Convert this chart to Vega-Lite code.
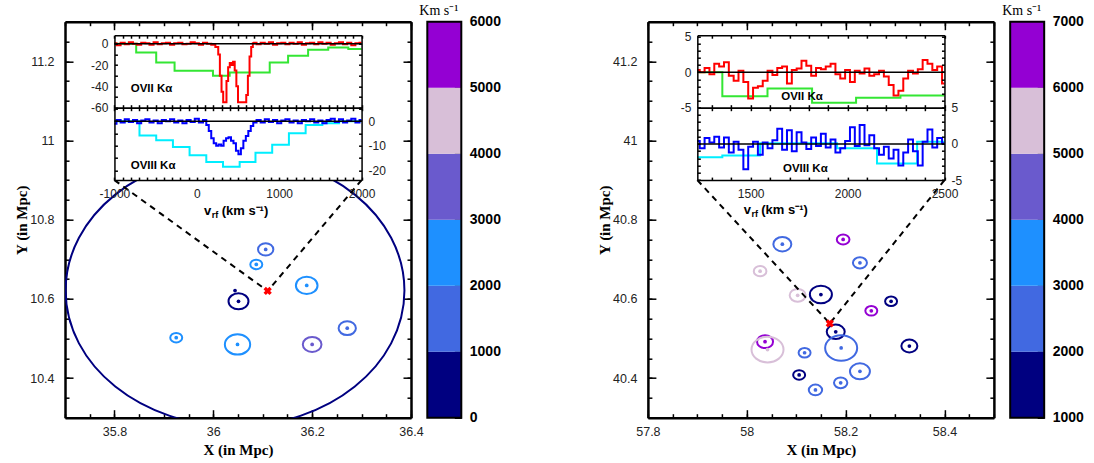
{
"$schema": "https://vega.github.io/schema/vega-lite/v6.json",
"background": "white",
"padding": {"left": 14, "top": 3.7, "right": 5, "bottom": 2},
"spacing": 16.3,
"bounds": "flush",
"resolve": {"scale": {"color": "independent", "size": "independent"}},
"config": {
  "view": {"stroke": null},
  "font": "Liberation Sans",
  "axis": {"grid": false, "tickColor": "black", "tickWidth": 1.5, "domainColor": "black", "labelFont": "Liberation Sans", "labelColor": "#222", "labelFlush": false, "labelOverlap": false, "labelBound": false, "titleFont": "Liberation Serif", "titleFontWeight": "bold", "titleColor": "black", "titleFontSize": 15}
},
"datasets": {
  "galL": [
    {"x": 36.106, "y": 10.725, "r": 0.0155, "v": 1500},
    {"x": 36.087, "y": 10.687, "r": 0.0121, "v": 2500},
    {"x": 36.189, "y": 10.634, "r": 0.0219, "v": 2400},
    {"x": 36.051, "y": 10.594, "r": 0.0202, "v": 600},
    {"x": 36.271, "y": 10.526, "r": 0.0175, "v": 1400},
    {"x": 35.925, "y": 10.502, "r": 0.0121, "v": 2600},
    {"x": 36.049, "y": 10.485, "r": 0.0256, "v": 2300},
    {"x": 36.200, "y": 10.485, "r": 0.0189, "v": 3500}
  ],
  "grpL": [{"x": 36.044, "y": 10.621}],
  "lnL": [{"x": 35.8, "y": 10.9, "x2": 36.11, "y2": 10.62}, {"x": 36.3, "y": 10.9, "x2": 36.11, "y2": 10.62}],
  "xL": [{"x": 36.11, "y": 10.62}],
  "o7L": [
    {"v":-1000,"f":0.5},{"v":-950,"f":-1.5},{"v":-900,"f":1},{"v":-850,"f":-0.5},{"v":-800,"f":1.5},{"v":-750,"f":0},{"v":-700,"f":-1},{"v":-650,"f":1},{"v":-600,"f":0.5},{"v":-550,"f":-1},{"v":-500,"f":1.5},{"v":-450,"f":-0.5},{"v":-400,"f":0.5},{"v":-350,"f":1},{"v":-300,"f":-1},{"v":-250,"f":0.5},{"v":-200,"f":1},{"v":-150,"f":-0.5},{"v":-100,"f":0},{"v":-50,"f":1.5},{"v":0,"f":0.5},{"v":50,"f":-1},{"v":100,"f":1},{"v":150,"f":0},{"v":200,"f":-1},{"v":250,"f":-3},{"v":270,"f":-10},{"v":290,"f":-30},{"v":310,"f":-45},{"v":330,"f":-55},{"v":350,"f":-55},{"v":370,"f":-35},{"v":390,"f":-22},{"v":410,"f":-18},{"v":430,"f":-20},{"v":450,"f":-17},{"v":470,"f":-25},{"v":490,"f":-40},{"v":510,"f":-55},{"v":530,"f":-55},{"v":550,"f":-55},{"v":570,"f":-55},{"v":590,"f":-55},{"v":610,"f":-48},{"v":630,"f":-30},{"v":650,"f":-12},{"v":670,"f":-3},{"v":690,"f":0.5},{"v":700,"f":1},{"v":750,"f":-0.5},{"v":800,"f":1},{"v":850,"f":0},{"v":900,"f":1.5},{"v":950,"f":-1},{"v":1000,"f":0.5},{"v":1050,"f":1},{"v":1100,"f":-0.5},{"v":1150,"f":1},{"v":1200,"f":0},{"v":1250,"f":1.5},{"v":1300,"f":-1},{"v":1350,"f":0.5},{"v":1400,"f":1},{"v":1450,"f":-0.5},{"v":1500,"f":1.5},{"v":1550,"f":0},{"v":1600,"f":1},{"v":1650,"f":-1},{"v":1700,"f":0.5},{"v":1750,"f":1.5},{"v":1800,"f":-0.5},{"v":1850,"f":1},{"v":1900,"f":-1.5},{"v":1950,"f":0.5},{"v":2000,"f":1}
  ],
  "o7mL": [
    {"v":-1000,"f":0},{"v":-736,"f":-8.2},{"v":-493,"f":-17.5},{"v":-270,"f":-25.3},{"v":196,"f":-30},{"v":399,"f":-27},{"v":885,"f":-17.5},{"v":1108,"f":-11.3},{"v":1351,"f":-5.7},{"v":1595,"f":-3.5},{"v":1839,"f":-5},{"v":2000,"f":-5}
  ],
  "o8L": [
    {"v":-1000,"f":-1},{"v":-950,"f":0.5},{"v":-900,"f":-0.5},{"v":-850,"f":0.8},{"v":-800,"f":-0.3},{"v":-750,"f":0.5},{"v":-700,"f":-0.8},{"v":-650,"f":0.3},{"v":-600,"f":0.8},{"v":-550,"f":-0.5},{"v":-500,"f":0.3},{"v":-450,"f":-0.8},{"v":-400,"f":0.5},{"v":-350,"f":0},{"v":-300,"f":0.8},{"v":-250,"f":-0.5},{"v":-200,"f":0.3},{"v":-150,"f":-0.8},{"v":-100,"f":0.5},{"v":-50,"f":-0.3},{"v":0,"f":1},{"v":50,"f":-0.5},{"v":100,"f":0.5},{"v":130,"f":-1.5},{"v":160,"f":-4},{"v":190,"f":-7},{"v":220,"f":-9},{"v":250,"f":-10},{"v":280,"f":-9.5},{"v":310,"f":-10},{"v":340,"f":-8},{"v":370,"f":-7},{"v":400,"f":-6.5},{"v":430,"f":-8},{"v":460,"f":-9},{"v":490,"f":-12},{"v":520,"f":-13.5},{"v":550,"f":-11},{"v":580,"f":-8},{"v":610,"f":-6},{"v":640,"f":-4},{"v":670,"f":-2},{"v":700,"f":-0.5},{"v":750,"f":0.5},{"v":800,"f":-0.5},{"v":850,"f":0.8},{"v":900,"f":-0.3},{"v":950,"f":0.5},{"v":1000,"f":-0.8},{"v":1050,"f":0.3},{"v":1100,"f":0.8},{"v":1150,"f":-0.5},{"v":1200,"f":0.3},{"v":1250,"f":-0.8},{"v":1300,"f":0.5},{"v":1350,"f":0},{"v":1400,"f":0.8},{"v":1450,"f":-0.5},{"v":1500,"f":0.3},{"v":1550,"f":-0.8},{"v":1600,"f":0.5},{"v":1650,"f":1},{"v":1700,"f":-0.3},{"v":1750,"f":0.8},{"v":1800,"f":-0.5},{"v":1850,"f":0.3},{"v":1900,"f":1},{"v":1950,"f":-0.5},{"v":2000,"f":0.5}
  ],
  "o8mL": [
    {"v":-1000,"f":0},{"v":-696,"f":-5.8},{"v":-493,"f":-7.8},{"v":-290,"f":-10.5},{"v":-88,"f":-13.9},{"v":115,"f":-16.6},{"v":318,"f":-18.6},{"v":520,"f":-16.6},{"v":712,"f":-12.9},{"v":915,"f":-9.6},{"v":1118,"f":-4.9},{"v":1321,"f":-1.5},{"v":1524,"f":-0.8},{"v":1727,"f":0},{"v":2000,"f":0}
  ],
  "galR": [
    {"x": 58.072, "y": 40.738, "r": 0.0182, "v": 2500},
    {"x": 58.195, "y": 40.750, "r": 0.0128, "v": 6500},
    {"x": 58.229, "y": 40.691, "r": 0.0142, "v": 2400},
    {"x": 58.027, "y": 40.670, "r": 0.0128, "v": 5500},
    {"x": 58.150, "y": 40.611, "r": 0.0223, "v": 1500},
    {"x": 58.103, "y": 40.609, "r": 0.0162, "v": 5400},
    {"x": 58.292, "y": 40.594, "r": 0.0121, "v": 1600},
    {"x": 58.252, "y": 40.570, "r": 0.0121, "v": 6400},
    {"x": 58.180, "y": 40.517, "r": 0.0182, "v": 1400},
    {"x": 58.329, "y": 40.481, "r": 0.0162, "v": 1700},
    {"x": 58.037, "y": 40.492, "r": 0.0162, "v": 6600},
    {"x": 58.042, "y": 40.472, "r": 0.0324, "v": 5600},
    {"x": 58.191, "y": 40.476, "r": 0.0324, "v": 2600},
    {"x": 58.117, "y": 40.464, "r": 0.0121, "v": 2300},
    {"x": 58.229, "y": 40.417, "r": 0.0202, "v": 2700},
    {"x": 58.106, "y": 40.408, "r": 0.0121, "v": 1300},
    {"x": 58.190, "y": 40.388, "r": 0.0135, "v": 2200},
    {"x": 58.139, "y": 40.370, "r": 0.0135, "v": 2500}
  ],
  "lnR": [{"x": 57.9, "y": 40.9, "x2": 58.168, "y2": 40.538}, {"x": 58.4, "y": 40.9, "x2": 58.168, "y2": 40.538}],
  "xR": [{"x": 58.168, "y": 40.538}],
  "o7R": [
    {"v":1225,"f":0.3},{"v":1250,"f":0},{"v":1275,"f":0.6},{"v":1300,"f":-0.3},{"v":1325,"f":1.2},{"v":1350,"f":0.8},{"v":1375,"f":1.4},{"v":1400,"f":-0.5},{"v":1425,"f":-1.2},{"v":1450,"f":0.2},{"v":1475,"f":-1.4},{"v":1500,"f":-3.7},{"v":1525,"f":-2.2},{"v":1550,"f":-2.0},{"v":1575,"f":-1.2},{"v":1600,"f":0.2},{"v":1625,"f":-0.4},{"v":1650,"f":0.6},{"v":1675,"f":0.8},{"v":1700,"f":-1.6},{"v":1725,"f":0.3},{"v":1750,"f":0.5},{"v":1775,"f":1.6},{"v":1800,"f":0.9},{"v":1825,"f":-0.5},{"v":1850,"f":0.6},{"v":1875,"f":0.4},{"v":1900,"f":0.8},{"v":1925,"f":1.2},{"v":1950,"f":-0.3},{"v":1975,"f":-0.9},{"v":2000,"f":0.3},{"v":2025,"f":-1.4},{"v":2050,"f":0.2},{"v":2075,"f":-0.2},{"v":2100,"f":0.5},{"v":2125,"f":-0.5},{"v":2150,"f":-0.3},{"v":2175,"f":0.2},{"v":2200,"f":-0.6},{"v":2225,"f":-1.8},{"v":2250,"f":-3.3},{"v":2275,"f":-2.6},{"v":2300,"f":-0.9},{"v":2325,"f":0.2},{"v":2350,"f":-0.2},{"v":2375,"f":0.4},{"v":2400,"f":1.7},{"v":2425,"f":1.2},{"v":2450,"f":0.3},{"v":2475,"f":0.8},{"v":2500,"f":-1.6}
  ],
  "o7mR": [
    {"v":1225,"f":0},{"v":1354,"f":-3.4},{"v":1587,"f":-2.3},{"v":1817,"f":-4.3},{"v":2044,"f":-3.6},{"v":2273,"f":-3.3},{"v":2500,"f":-3.3}
  ],
  "o8R": [
    {"v":1225,"f":0.4},{"v":1250,"f":-0.6},{"v":1275,"f":0.8},{"v":1300,"f":0.2},{"v":1325,"f":1.0},{"v":1350,"f":-0.5},{"v":1375,"f":0.9},{"v":1400,"f":-1.2},{"v":1425,"f":0.3},{"v":1450,"f":-0.8},{"v":1475,"f":-3.5},{"v":1500,"f":-0.4},{"v":1525,"f":0.3},{"v":1550,"f":-1.5},{"v":1575,"f":0.2},{"v":1600,"f":-0.6},{"v":1625,"f":0.5},{"v":1650,"f":2.1},{"v":1675,"f":-0.8},{"v":1700,"f":1.9},{"v":1725,"f":-1.0},{"v":1750,"f":1.6},{"v":1775,"f":0.2},{"v":1800,"f":-0.7},{"v":1825,"f":0.9},{"v":1850,"f":-0.3},{"v":1875,"f":1.4},{"v":1900,"f":-0.5},{"v":1925,"f":0.6},{"v":1950,"f":-1.2},{"v":1975,"f":-0.6},{"v":2000,"f":0.4},{"v":2025,"f":2.3},{"v":2050,"f":-0.3},{"v":2075,"f":2.6},{"v":2100,"f":-0.2},{"v":2125,"f":1.2},{"v":2150,"f":-0.6},{"v":2175,"f":-1.5},{"v":2200,"f":-0.4},{"v":2225,"f":-2.0},{"v":2250,"f":-0.8},{"v":2275,"f":-3.0},{"v":2300,"f":-1.2},{"v":2325,"f":0.6},{"v":2350,"f":-1.0},{"v":2375,"f":-3.0},{"v":2400,"f":0.3},{"v":2425,"f":2.0},{"v":2450,"f":-0.5},{"v":2475,"f":0.8},{"v":2500,"f":0.1}
  ],
  "o8mR": [
    {"v":1225,"f":-1.85},{"v":1354,"f":-1.6},{"v":1549,"f":0.1},{"v":1946,"f":-0.6},{"v":2152,"f":-2.7},{"v":2359,"f":0.3},{"v":2500,"f":0.3}
  ],
  "cbL": [{"lo":0,"hi":1000,"v":500},{"lo":1000,"hi":2000,"v":1500},{"lo":2000,"hi":3000,"v":2500},{"lo":3000,"hi":4000,"v":3500},{"lo":4000,"hi":5000,"v":4500},{"lo":5000,"hi":6000,"v":5500}],
  "cbR": [{"lo":1000,"hi":2000,"v":1500},{"lo":2000,"hi":3000,"v":2500},{"lo":3000,"hi":4000,"v":3500},{"lo":4000,"hi":5000,"v":4500},{"lo":5000,"hi":6000,"v":5500},{"lo":6000,"hi":7000,"v":6500}]
},
"hconcat": [
{
  "width": 346, "height": 396,
  "resolve": {"scale": {"x": "independent", "y": "independent"}},
  "layer": [
    {
      "resolve": {"axis": {"x": "independent", "y": "independent"}},
      "layer": [
        {"data": {"name": "grpL"},
         "mark": {"type": "point", "shape": "M-1,0A1,0.8011,0,1,1,1,0A1,0.8011,0,1,1,-1,0Z", "filled": false, "stroke": "#000080", "strokeWidth": 2, "size": 114785, "opacity": 1, "clip": true},
         "encoding": {
           "x": {"field": "x", "type": "quantitative", "scale": {"domain": [35.7, 36.4], "nice": false, "zero": false}, "axis": {"orient": "top", "values": [35.8, 36, 36.2, 36.4], "tickSize": -8, "labels": false, "domainWidth": 2.5, "title": null}},
           "y": {"field": "y", "type": "quantitative", "scale": {"domain": [10.3, 11.3], "nice": false, "zero": false}, "axis": {"orient": "right", "values": [10.4, 10.6, 10.8, 11, 11.2], "tickSize": -8, "labels": false, "domainWidth": 2.5, "title": null}}
         }},
        {"data": {"name": "galL"},
         "mark": {"type": "point", "shape": "M-1,0A1,0.8011,0,1,1,1,0A1,0.8011,0,1,1,-1,0Z", "filled": false, "strokeWidth": 2, "opacity": 1},
         "encoding": {
           "x": {"field": "x", "type": "quantitative", "scale": {"domain": [35.7, 36.4], "nice": false, "zero": false}, "axis": {"orient": "bottom", "values": [35.8, 36, 36.2, 36.4], "labelExpr": "toString(datum.value)", "tickSize": -8, "labelPadding": 16, "labelFontSize": 12.5, "domainWidth": 2.5, "title": "X (in Mpc)", "titlePadding": 4}},
           "y": {"field": "y", "type": "quantitative", "scale": {"domain": [10.3, 11.3], "nice": false, "zero": false}, "axis": {"orient": "left", "values": [10.4, 10.6, 10.8, 11, 11.2], "labelExpr": "toString(datum.value)", "tickSize": -8, "labelPadding": 19, "labelFontSize": 12.5, "domainWidth": 2.5, "title": "Y (in Mpc)", "titlePadding": 0}},
           "size": {"field": "r", "type": "quantitative", "scale": {"type": "pow", "exponent": 2, "domain": [0, 0.05], "range": [0, 2443.2]}, "legend": null},
           "color": {"field": "v", "type": "quantitative", "scale": {"type": "threshold", "domain": [1000, 2000, 3000, 4000, 5000], "range": ["#000080", "#4169e1", "#1e90ff", "#6a5acd", "#d8bfd8", "#9400d3"]}, "legend": null}
         }},
        {"data": {"name": "galL"},
         "mark": {"type": "point", "shape": "circle", "filled": true, "size": 14, "opacity": 1},
         "encoding": {
           "x": {"field": "x", "type": "quantitative", "scale": {"domain": [35.7, 36.4], "nice": false, "zero": false}, "axis": {"orient": "bottom", "values": [35.7, 35.75, 35.8, 35.85, 35.9, 35.95, 36, 36.05, 36.1, 36.15, 36.2, 36.25, 36.3, 36.35, 36.4], "tickSize": -4, "labels": false, "domain": false, "title": null}},
           "y": {"field": "y", "type": "quantitative", "scale": {"domain": [10.3, 11.3], "nice": false, "zero": false}, "axis": {"orient": "left", "values": [10.3, 10.35, 10.4, 10.45, 10.5, 10.55, 10.6, 10.65, 10.7, 10.75, 10.8, 10.85, 10.9, 10.95, 11, 11.05, 11.1, 11.15, 11.2, 11.25, 11.3], "tickSize": -4, "labels": false, "domain": false, "title": null}},
           "color": {"field": "v", "type": "quantitative", "scale": {"type": "threshold", "domain": [1000, 2000, 3000, 4000, 5000], "range": ["#000080", "#4169e1", "#1e90ff", "#6a5acd", "#d8bfd8", "#9400d3"]}, "legend": null}
         }},
        {"data": {"name": "grpL"},
         "mark": {"type": "point", "shape": "circle", "filled": true, "size": 14, "color": "#000080", "opacity": 1},
         "encoding": {
           "x": {"field": "x", "type": "quantitative", "scale": {"domain": [35.7, 36.4], "nice": false, "zero": false}, "axis": null},
           "y": {"field": "y", "type": "quantitative", "scale": {"domain": [10.3, 11.3], "nice": false, "zero": false}, "axis": null}
         }},
        {"data": {"name": "lnL"},
         "mark": {"type": "rule", "strokeDash": [6, 5], "strokeWidth": 2, "color": "black"},
         "encoding": {
           "x": {"field": "x", "type": "quantitative", "scale": {"domain": [35.7, 36.4], "nice": false, "zero": false}, "axis": {"orient": "top", "values": [35.7, 35.75, 35.8, 35.85, 35.9, 35.95, 36, 36.05, 36.1, 36.15, 36.2, 36.25, 36.3, 36.35, 36.4], "tickSize": -4, "labels": false, "domain": false, "title": null}},
           "y": {"field": "y", "type": "quantitative", "scale": {"domain": [10.3, 11.3], "nice": false, "zero": false}, "axis": {"orient": "right", "values": [10.3, 10.35, 10.4, 10.45, 10.5, 10.55, 10.6, 10.65, 10.7, 10.75, 10.8, 10.85, 10.9, 10.95, 11, 11.05, 11.1, 11.15, 11.2, 11.25, 11.3], "tickSize": -4, "labels": false, "domain": false, "title": null}},
           "x2": {"field": "x2"}, "y2": {"field": "y2"}
         }},
        {"data": {"name": "xL"},
         "mark": {"type": "point", "shape": "cross", "angle": 45, "filled": true, "size": 70, "color": "#ff0000", "opacity": 1},
         "encoding": {
           "x": {"field": "x", "type": "quantitative", "scale": {"domain": [35.7, 36.4], "nice": false, "zero": false}, "axis": null},
           "y": {"field": "y", "type": "quantitative", "scale": {"domain": [10.3, 11.3], "nice": false, "zero": false}, "axis": null}
         }}
      ]
    },
    {
      "resolve": {"axis": {"x": "independent", "y": "independent"}},
      "layer": [
        {"data": {"values": [{}]}, "mark": {"type": "rect", "fill": "white"},
         "encoding": {
           "x": {"datum": -1000, "type": "quantitative", "scale": {"domain": [-1000, 2000], "range": [49.43, 296.57], "nice": false, "zero": false}, "axis": null}, "x2": {"datum": 2000},
           "y": {"datum": -60, "type": "quantitative", "scale": {"domain": [-60, 8], "range": [86, 13.5], "nice": false, "zero": false}, "axis": null}, "y2": {"datum": 8}
         }},
        {"data": {"name": "o7mL"}, "mark": {"type": "line", "interpolate": "step-after", "color": "#33e633", "strokeWidth": 2},
         "encoding": {
           "x": {"field": "v", "type": "quantitative", "scale": {"domain": [-1000, 2000], "range": [49.43, 296.57], "nice": false, "zero": false}, "axis": {"orient": "top", "offset": -13.5, "values": [-1000,-900,-800,-700,-600,-500,-400,-300,-200,-100,0,100,200,300,400,500,600,700,800,900,1000,1100,1200,1300,1400,1500,1600,1700,1800,1900,2000], "tickSize": -3, "labels": false, "domainWidth": 1.5, "zindex": 1, "title": null}},
           "y": {"field": "f", "type": "quantitative", "scale": {"domain": [-60, 8], "range": [86, 13.5], "nice": false, "zero": false}, "axis": {"orient": "left", "offset": -49.43, "values": [-60, -50, -40, -30, -20, -10, 0], "labelExpr": "datum.value % 20 == 0 ? toString(datum.value) : ''", "tickSize": -3, "labelPadding": 9.5, "labelFontSize": 12, "domainWidth": 1.5, "zindex": 1, "title": null}}
         }},
        {"data": {"values": [{}]}, "mark": {"type": "text", "text": "OVII Kα", "align": "left", "baseline": "middle", "font": "Liberation Sans", "fontWeight": "bold", "fontSize": 11.5},
         "encoding": {
           "x": {"datum": -802, "type": "quantitative", "scale": {"domain": [-1000, 2000], "range": [49.43, 296.57], "nice": false, "zero": false}, "axis": null},
           "y": {"datum": -42.5, "type": "quantitative", "scale": {"domain": [-60, 8], "range": [86, 13.5], "nice": false, "zero": false}, "axis": null}
         }},
        {"data": {"name": "o7L"}, "mark": {"type": "line", "interpolate": "step", "color": "#ff0000", "strokeWidth": 2},
         "encoding": {
           "x": {"field": "v", "type": "quantitative", "scale": {"domain": [-1000, 2000], "range": [49.43, 296.57], "nice": false, "zero": false}, "axis": {"orient": "bottom", "offset": -310, "values": [-1000,-900,-800,-700,-600,-500,-400,-300,-200,-100,0,100,200,300,400,500,600,700,800,900,1000,1100,1200,1300,1400,1500,1600,1700,1800,1900,2000], "tickSize": -3, "labels": false, "domainWidth": 1.5, "zindex": 1, "title": null}},
           "y": {"field": "f", "type": "quantitative", "scale": {"domain": [-60, 8], "range": [86, 13.5], "nice": false, "zero": false}, "axis": {"orient": "right", "offset": -49.43, "values": [-60, -50, -40, -30, -20, -10, 0], "tickSize": -3, "labels": false, "domainWidth": 1.5, "zindex": 1, "title": null}}
         }},
        {"data": {"values": [{}]}, "mark": {"type": "rule", "color": "black", "strokeWidth": 1.5},
         "encoding": {
           "x": {"datum": -1000, "type": "quantitative", "scale": {"domain": [-1000, 2000], "range": [49.43, 296.57], "nice": false, "zero": false}, "axis": null}, "x2": {"datum": 2000},
           "y": {"datum": 0, "type": "quantitative", "scale": {"domain": [-60, 8], "range": [86, 13.5], "nice": false, "zero": false}, "axis": null}
         }}
      ]
    },
    {
      "resolve": {"axis": {"x": "independent", "y": "independent"}},
      "layer": [
        {"data": {"values": [{}]}, "mark": {"type": "rect", "fill": "white"},
         "encoding": {
           "x": {"datum": -1000, "type": "quantitative", "scale": {"domain": [-1000, 2000], "range": [49.43, 296.57], "nice": false, "zero": false}, "axis": null}, "x2": {"datum": 2000},
           "y": {"datum": -24, "type": "quantitative", "scale": {"domain": [-24, 5.5], "range": [158.4, 86], "nice": false, "zero": false}, "axis": null}, "y2": {"datum": 5.5}
         }},
        {"data": {"name": "o8mL"}, "mark": {"type": "line", "interpolate": "step-after", "color": "#00eeff", "strokeWidth": 2},
         "encoding": {
           "x": {"field": "v", "type": "quantitative", "scale": {"domain": [-1000, 2000], "range": [49.43, 296.57], "nice": false, "zero": false}, "axis": {"orient": "bottom", "offset": -237.6, "values": [-1000,-900,-800,-700,-600,-500,-400,-300,-200,-100,0,100,200,300,400,500,600,700,800,900,1000,1100,1200,1300,1400,1500,1600,1700,1800,1900,2000], "labelExpr": "datum.value % 1000 == 0 ? toString(datum.value) : ''", "tickSize": -3, "labelPadding": 11, "labelFontSize": 12, "domainWidth": 1.5, "zindex": 1, "title": null}},
           "y": {"field": "f", "type": "quantitative", "scale": {"domain": [-24, 5.5], "range": [158.4, 86], "nice": false, "zero": false}, "axis": {"orient": "right", "offset": -49.43, "values": [-20, -15, -10, -5, 0, 5], "labelExpr": "datum.value % 10 == 0 ? toString(datum.value) : ''", "tickSize": -3, "labelPadding": 9.5, "labelFontSize": 12, "domainWidth": 1.5, "zindex": 1, "title": null}}
         }},
        {"data": {"values": [{}]}, "mark": {"type": "text", "text": "OVIII Kα", "align": "left", "baseline": "middle", "font": "Liberation Sans", "fontWeight": "bold", "fontSize": 11.5},
         "encoding": {
           "x": {"datum": -802, "type": "quantitative", "scale": {"domain": [-1000, 2000], "range": [49.43, 296.57], "nice": false, "zero": false}, "axis": null},
           "y": {"datum": -18.1, "type": "quantitative", "scale": {"domain": [-24, 5.5], "range": [158.4, 86], "nice": false, "zero": false}, "axis": null}
         }},
        {"data": {"values": [{}]}, "mark": {"type": "text", "text": "v", "align": "left", "baseline": "alphabetic", "font": "Liberation Sans", "fontWeight": "bold", "fontSize": 13},
         "encoding": {
           "x": {"datum": 87, "type": "quantitative", "scale": {"domain": [-1000, 2000], "range": [49.43, 296.57], "nice": false, "zero": false}, "axis": null},
           "y": {"datum": -38.2, "type": "quantitative", "scale": {"domain": [-24, 5.5], "range": [158.4, 86], "nice": false, "zero": false}, "axis": null}
         }},
        {"data": {"values": [{}]}, "mark": {"type": "text", "text": "rf", "align": "left", "baseline": "alphabetic", "font": "Liberation Sans", "fontWeight": "bold", "fontSize": 9},
         "encoding": {
           "x": {"datum": 180, "type": "quantitative", "scale": {"domain": [-1000, 2000], "range": [49.43, 296.57], "nice": false, "zero": false}, "axis": null},
           "y": {"datum": -39.4, "type": "quantitative", "scale": {"domain": [-24, 5.5], "range": [158.4, 86], "nice": false, "zero": false}, "axis": null}
         }},
        {"data": {"values": [{}]}, "mark": {"type": "text", "text": "(km s⁻¹)", "align": "left", "baseline": "alphabetic", "font": "Liberation Sans", "fontWeight": "bold", "fontSize": 13},
         "encoding": {
           "x": {"datum": 302, "type": "quantitative", "scale": {"domain": [-1000, 2000], "range": [49.43, 296.57], "nice": false, "zero": false}, "axis": null},
           "y": {"datum": -38.2, "type": "quantitative", "scale": {"domain": [-24, 5.5], "range": [158.4, 86], "nice": false, "zero": false}, "axis": null}
         }},
        {"data": {"name": "o8L"}, "mark": {"type": "line", "interpolate": "step", "color": "#0000ff", "strokeWidth": 2},
         "encoding": {
           "x": {"field": "v", "type": "quantitative", "scale": {"domain": [-1000, 2000], "range": [49.43, 296.57], "nice": false, "zero": false}, "axis": {"orient": "top", "offset": -86, "values": [-1000,-900,-800,-700,-600,-500,-400,-300,-200,-100,0,100,200,300,400,500,600,700,800,900,1000,1100,1200,1300,1400,1500,1600,1700,1800,1900,2000], "tickSize": -3, "labels": false, "domainWidth": 1.5, "zindex": 1, "title": null}},
           "y": {"field": "f", "type": "quantitative", "scale": {"domain": [-24, 5.5], "range": [158.4, 86], "nice": false, "zero": false}, "axis": {"orient": "left", "offset": -49.43, "values": [-20, -15, -10, -5, 0, 5], "tickSize": -3, "labels": false, "domainWidth": 1.5, "zindex": 1, "title": null}}
         }},
        {"data": {"values": [{}]}, "mark": {"type": "rule", "color": "black", "strokeWidth": 1.5},
         "encoding": {
           "x": {"datum": -1000, "type": "quantitative", "scale": {"domain": [-1000, 2000], "range": [49.43, 296.57], "nice": false, "zero": false}, "axis": null}, "x2": {"datum": 2000},
           "y": {"datum": 0, "type": "quantitative", "scale": {"domain": [-24, 5.5], "range": [158.4, 86], "nice": false, "zero": false}, "axis": null}
         }}
      ]
    }
  ]
},
{
  "width": 34, "height": 396,
  "title": {"text": "Km s⁻¹", "anchor": "start", "frame": "group", "dx": -8, "offset": -3, "font": "Liberation Serif", "fontSize": 14, "fontWeight": "normal", "color": "black"},
  "layer": [
    {"data": {"name": "cbL"}, "mark": {"type": "rect"},
     "encoding": {
       "y": {"field": "lo", "type": "quantitative", "scale": {"domain": [0, 6000], "nice": false, "zero": false}, "axis": {"orient": "right", "values": [0, 1000, 2000, 3000, 4000, 5000, 6000], "labelExpr": "toString(datum.value)", "tickSize": -7, "tickWidth": 1.5, "labelPadding": 15, "labelFontWeight": "bold", "labelFontSize": 14, "labelColor": "black", "domain": false, "title": null}},
       "y2": {"field": "hi"},
       "color": {"field": "v", "type": "quantitative", "scale": {"type": "threshold", "domain": [1000, 2000, 3000, 4000, 5000], "range": ["#000080", "#4169e1", "#1e90ff", "#6a5acd", "#d8bfd8", "#9400d3"]}, "legend": null}
     }},
    {"data": {"values": [{}]}, "mark": {"type": "rect", "fill": "transparent", "stroke": "black", "strokeWidth": 2},
     "encoding": {"y": {"datum": 0, "type": "quantitative"}, "y2": {"datum": 6000}}}
  ]
},
{
  "width": 153.4, "height": 396,
  "data": {"values": []},
  "mark": "point"
},
{
  "width": 346, "height": 396,
  "resolve": {"scale": {"x": "independent", "y": "independent"}},
  "layer": [
    {
      "resolve": {"axis": {"x": "independent", "y": "independent"}},
      "layer": [
        {"data": {"name": "galR"},
         "mark": {"type": "point", "shape": "M-1,0A1,0.8011,0,1,1,1,0A1,0.8011,0,1,1,-1,0Z", "filled": false, "strokeWidth": 2, "opacity": 1},
         "encoding": {
           "x": {"field": "x", "type": "quantitative", "scale": {"domain": [57.8, 58.5], "nice": false, "zero": false}, "axis": {"orient": "bottom", "values": [57.8, 58, 58.2, 58.4], "labelExpr": "toString(datum.value)", "tickSize": -8, "labelPadding": 16, "labelFontSize": 12.5, "domainWidth": 2.5, "title": "X (in Mpc)", "titlePadding": 4}},
           "y": {"field": "y", "type": "quantitative", "scale": {"domain": [40.3, 41.3], "nice": false, "zero": false}, "axis": {"orient": "left", "values": [40.4, 40.6, 40.8, 41, 41.2], "labelExpr": "toString(datum.value)", "tickSize": -8, "labelPadding": 19, "labelFontSize": 12.5, "domainWidth": 2.5, "title": "Y (in Mpc)", "titlePadding": 0}},
           "size": {"field": "r", "type": "quantitative", "scale": {"type": "pow", "exponent": 2, "domain": [0, 0.05], "range": [0, 2443.2]}, "legend": null},
           "color": {"field": "v", "type": "quantitative", "scale": {"type": "threshold", "domain": [2000, 3000, 4000, 5000, 6000], "range": ["#000080", "#4169e1", "#1e90ff", "#6a5acd", "#d8bfd8", "#9400d3"]}, "legend": null}
         }},
        {"data": {"name": "galR"},
         "mark": {"type": "point", "shape": "circle", "filled": true, "size": 14, "opacity": 1},
         "encoding": {
           "x": {"field": "x", "type": "quantitative", "scale": {"domain": [57.8, 58.5], "nice": false, "zero": false}, "axis": {"orient": "bottom", "values": [57.8, 57.85, 57.9, 57.95, 58, 58.05, 58.1, 58.15, 58.2, 58.25, 58.3, 58.35, 58.4, 58.45, 58.5], "tickSize": -4, "labels": false, "domain": false, "title": null}},
           "y": {"field": "y", "type": "quantitative", "scale": {"domain": [40.3, 41.3], "nice": false, "zero": false}, "axis": {"orient": "left", "values": [40.3, 40.35, 40.4, 40.45, 40.5, 40.55, 40.6, 40.65, 40.7, 40.75, 40.8, 40.85, 40.9, 40.95, 41, 41.05, 41.1, 41.15, 41.2, 41.25, 41.3], "tickSize": -4, "labels": false, "domain": false, "title": null}},
           "color": {"field": "v", "type": "quantitative", "scale": {"type": "threshold", "domain": [2000, 3000, 4000, 5000, 6000], "range": ["#000080", "#4169e1", "#1e90ff", "#6a5acd", "#d8bfd8", "#9400d3"]}, "legend": null}
         }},
        {"data": {"name": "lnR"},
         "mark": {"type": "rule", "strokeDash": [6, 5], "strokeWidth": 2, "color": "black"},
         "encoding": {
           "x": {"field": "x", "type": "quantitative", "scale": {"domain": [57.8, 58.5], "nice": false, "zero": false}, "axis": {"orient": "top", "values": [57.8, 58, 58.2, 58.4], "tickSize": -8, "labels": false, "domainWidth": 2.5, "title": null}},
           "y": {"field": "y", "type": "quantitative", "scale": {"domain": [40.3, 41.3], "nice": false, "zero": false}, "axis": {"orient": "right", "values": [40.4, 40.6, 40.8, 41, 41.2], "tickSize": -8, "labels": false, "domainWidth": 2.5, "title": null}},
           "x2": {"field": "x2"}, "y2": {"field": "y2"}
         }},
        {"data": {"name": "xR"},
         "mark": {"type": "point", "shape": "cross", "angle": 45, "filled": true, "size": 70, "color": "#ff0000", "opacity": 1},
         "encoding": {
           "x": {"field": "x", "type": "quantitative", "scale": {"domain": [57.8, 58.5], "nice": false, "zero": false}, "axis": {"orient": "top", "values": [57.8, 57.85, 57.9, 57.95, 58, 58.05, 58.1, 58.15, 58.2, 58.25, 58.3, 58.35, 58.4, 58.45, 58.5], "tickSize": -4, "labels": false, "domain": false, "title": null}},
           "y": {"field": "y", "type": "quantitative", "scale": {"domain": [40.3, 41.3], "nice": false, "zero": false}, "axis": {"orient": "right", "values": [40.3, 40.35, 40.4, 40.45, 40.5, 40.55, 40.6, 40.65, 40.7, 40.75, 40.8, 40.85, 40.9, 40.95, 41, 41.05, 41.1, 41.15, 41.2, 41.25, 41.3], "tickSize": -4, "labels": false, "domain": false, "title": null}}
         }}
      ]
    },
    {
      "resolve": {"axis": {"x": "independent", "y": "independent"}},
      "layer": [
        {"data": {"values": [{}]}, "mark": {"type": "rect", "fill": "white"},
         "encoding": {
           "x": {"datum": 1225, "type": "quantitative", "scale": {"domain": [1225, 2500], "range": [49.43, 296.57], "nice": false, "zero": false}, "axis": null}, "x2": {"datum": 2500},
           "y": {"datum": -5, "type": "quantitative", "scale": {"domain": [-5, 5.2], "range": [86, 13.5], "nice": false, "zero": false}, "axis": null}, "y2": {"datum": 5.2}
         }},
        {"data": {"name": "o7mR"}, "mark": {"type": "line", "interpolate": "step-after", "color": "#33e633", "strokeWidth": 2},
         "encoding": {
           "x": {"field": "v", "type": "quantitative", "scale": {"domain": [1225, 2500], "range": [49.43, 296.57], "nice": false, "zero": false}, "axis": {"orient": "top", "offset": -13.5, "values": [1300,1400,1500,1600,1700,1800,1900,2000,2100,2200,2300,2400,2500], "tickSize": -3, "labels": false, "domainWidth": 1.5, "zindex": 1, "title": null}},
           "y": {"field": "f", "type": "quantitative", "scale": {"domain": [-5, 5.2], "range": [86, 13.5], "nice": false, "zero": false}, "axis": {"orient": "left", "offset": -49.43, "values": [-5,-4,-3,-2,-1,0,1,2,3,4,5], "labelExpr": "datum.value % 5 == 0 ? toString(datum.value) : ''", "tickSize": -3, "labelPadding": 9.5, "labelFontSize": 12, "domainWidth": 1.5, "zindex": 1, "title": null}}
         }},
        {"data": {"values": [{}]}, "mark": {"type": "text", "text": "OVII Kα", "align": "left", "baseline": "middle", "font": "Liberation Sans", "fontWeight": "bold", "fontSize": 11.5},
         "encoding": {
           "x": {"datum": 1658, "type": "quantitative", "scale": {"domain": [1225, 2500], "range": [49.43, 296.57], "nice": false, "zero": false}, "axis": null},
           "y": {"datum": -3.5, "type": "quantitative", "scale": {"domain": [-5, 5.2], "range": [86, 13.5], "nice": false, "zero": false}, "axis": null}
         }},
        {"data": {"name": "o7R"}, "mark": {"type": "line", "interpolate": "step", "color": "#ff0000", "strokeWidth": 2},
         "encoding": {
           "x": {"field": "v", "type": "quantitative", "scale": {"domain": [1225, 2500], "range": [49.43, 296.57], "nice": false, "zero": false}, "axis": {"orient": "bottom", "offset": -310, "values": [1300,1400,1500,1600,1700,1800,1900,2000,2100,2200,2300,2400,2500], "tickSize": -3, "labels": false, "domainWidth": 1.5, "zindex": 1, "title": null}},
           "y": {"field": "f", "type": "quantitative", "scale": {"domain": [-5, 5.2], "range": [86, 13.5], "nice": false, "zero": false}, "axis": {"orient": "right", "offset": -49.43, "values": [-5,-4,-3,-2,-1,0,1,2,3,4,5], "tickSize": -3, "labels": false, "domainWidth": 1.5, "zindex": 1, "title": null}}
         }},
        {"data": {"values": [{}]}, "mark": {"type": "rule", "color": "black", "strokeWidth": 1.5},
         "encoding": {
           "x": {"datum": 1225, "type": "quantitative", "scale": {"domain": [1225, 2500], "range": [49.43, 296.57], "nice": false, "zero": false}, "axis": null}, "x2": {"datum": 2500},
           "y": {"datum": 0, "type": "quantitative", "scale": {"domain": [-5, 5.2], "range": [86, 13.5], "nice": false, "zero": false}, "axis": null}
         }}
      ]
    },
    {
      "resolve": {"axis": {"x": "independent", "y": "independent"}},
      "layer": [
        {"data": {"values": [{}]}, "mark": {"type": "rect", "fill": "white"},
         "encoding": {
           "x": {"datum": 1225, "type": "quantitative", "scale": {"domain": [1225, 2500], "range": [49.43, 296.57], "nice": false, "zero": false}, "axis": null}, "x2": {"datum": 2500},
           "y": {"datum": -5, "type": "quantitative", "scale": {"domain": [-5, 5], "range": [158.4, 86], "nice": false, "zero": false}, "axis": null}, "y2": {"datum": 5}
         }},
        {"data": {"name": "o8mR"}, "mark": {"type": "line", "interpolate": "step-after", "color": "#00eeff", "strokeWidth": 2},
         "encoding": {
           "x": {"field": "v", "type": "quantitative", "scale": {"domain": [1225, 2500], "range": [49.43, 296.57], "nice": false, "zero": false}, "axis": {"orient": "bottom", "offset": -237.6, "values": [1300,1400,1500,1600,1700,1800,1900,2000,2100,2200,2300,2400,2500], "labelExpr": "datum.value % 500 == 0 ? toString(datum.value) : ''", "tickSize": -3, "labelPadding": 11, "labelFontSize": 12, "domainWidth": 1.5, "zindex": 1, "title": null}},
           "y": {"field": "f", "type": "quantitative", "scale": {"domain": [-5, 5], "range": [158.4, 86], "nice": false, "zero": false}, "axis": {"orient": "right", "offset": -49.43, "values": [-5,-4,-3,-2,-1,0,1,2,3,4,5], "labelExpr": "datum.value % 5 == 0 ? toString(datum.value) : ''", "tickSize": -3, "labelPadding": 9.5, "labelFontSize": 12, "domainWidth": 1.5, "zindex": 1, "title": null}}
         }},
        {"data": {"values": [{}]}, "mark": {"type": "text", "text": "OVIII Kα", "align": "left", "baseline": "middle", "font": "Liberation Sans", "fontWeight": "bold", "fontSize": 11.5},
         "encoding": {
           "x": {"datum": 1667, "type": "quantitative", "scale": {"domain": [1225, 2500], "range": [49.43, 296.57], "nice": false, "zero": false}, "axis": null},
           "y": {"datum": -3.47, "type": "quantitative", "scale": {"domain": [-5, 5], "range": [158.4, 86], "nice": false, "zero": false}, "axis": null}
         }},
        {"data": {"values": [{}]}, "mark": {"type": "text", "text": "v", "align": "left", "baseline": "alphabetic", "font": "Liberation Sans", "fontWeight": "bold", "fontSize": 13},
         "encoding": {
           "x": {"datum": 1464, "type": "quantitative", "scale": {"domain": [1225, 2500], "range": [49.43, 296.57], "nice": false, "zero": false}, "axis": null},
           "y": {"datum": -9.68, "type": "quantitative", "scale": {"domain": [-5, 5], "range": [158.4, 86], "nice": false, "zero": false}, "axis": null}
         }},
        {"data": {"values": [{}]}, "mark": {"type": "text", "text": "rf", "align": "left", "baseline": "alphabetic", "font": "Liberation Sans", "fontWeight": "bold", "fontSize": 9},
         "encoding": {
           "x": {"datum": 1504, "type": "quantitative", "scale": {"domain": [1225, 2500], "range": [49.43, 296.57], "nice": false, "zero": false}, "axis": null},
           "y": {"datum": -10.1, "type": "quantitative", "scale": {"domain": [-5, 5], "range": [158.4, 86], "nice": false, "zero": false}, "axis": null}
         }},
        {"data": {"values": [{}]}, "mark": {"type": "text", "text": "(km s⁻¹)", "align": "left", "baseline": "alphabetic", "font": "Liberation Sans", "fontWeight": "bold", "fontSize": 13},
         "encoding": {
           "x": {"datum": 1555, "type": "quantitative", "scale": {"domain": [1225, 2500], "range": [49.43, 296.57], "nice": false, "zero": false}, "axis": null},
           "y": {"datum": -9.68, "type": "quantitative", "scale": {"domain": [-5, 5], "range": [158.4, 86], "nice": false, "zero": false}, "axis": null}
         }},
        {"data": {"name": "o8R"}, "mark": {"type": "line", "interpolate": "step", "color": "#0000ff", "strokeWidth": 2},
         "encoding": {
           "x": {"field": "v", "type": "quantitative", "scale": {"domain": [1225, 2500], "range": [49.43, 296.57], "nice": false, "zero": false}, "axis": {"orient": "top", "offset": -86, "values": [1300,1400,1500,1600,1700,1800,1900,2000,2100,2200,2300,2400,2500], "tickSize": -3, "labels": false, "domainWidth": 1.5, "zindex": 1, "title": null}},
           "y": {"field": "f", "type": "quantitative", "scale": {"domain": [-5, 5], "range": [158.4, 86], "nice": false, "zero": false}, "axis": {"orient": "left", "offset": -49.43, "values": [-5,-4,-3,-2,-1,0,1,2,3,4,5], "tickSize": -3, "labels": false, "domainWidth": 1.5, "zindex": 1, "title": null}}
         }},
        {"data": {"values": [{}]}, "mark": {"type": "rule", "color": "black", "strokeWidth": 1.5},
         "encoding": {
           "x": {"datum": 1225, "type": "quantitative", "scale": {"domain": [1225, 2500], "range": [49.43, 296.57], "nice": false, "zero": false}, "axis": null}, "x2": {"datum": 2500},
           "y": {"datum": 0, "type": "quantitative", "scale": {"domain": [-5, 5], "range": [158.4, 86], "nice": false, "zero": false}, "axis": null}
         }}
      ]
    }
  ]
},
{
  "width": 34, "height": 396,
  "title": {"text": "Km s⁻¹", "anchor": "start", "frame": "group", "dx": -8, "offset": -3, "font": "Liberation Serif", "fontSize": 14, "fontWeight": "normal", "color": "black"},
  "layer": [
    {"data": {"name": "cbR"}, "mark": {"type": "rect"},
     "encoding": {
       "y": {"field": "lo", "type": "quantitative", "scale": {"domain": [1000, 7000], "nice": false, "zero": false}, "axis": {"orient": "right", "values": [1000, 2000, 3000, 4000, 5000, 6000, 7000], "labelExpr": "toString(datum.value)", "tickSize": -7, "tickWidth": 1.5, "labelPadding": 15, "labelFontWeight": "bold", "labelFontSize": 14, "labelColor": "black", "domain": false, "title": null}},
       "y2": {"field": "hi"},
       "color": {"field": "v", "type": "quantitative", "scale": {"type": "threshold", "domain": [2000, 3000, 4000, 5000, 6000], "range": ["#000080", "#4169e1", "#1e90ff", "#6a5acd", "#d8bfd8", "#9400d3"]}, "legend": null}
     }},
    {"data": {"values": [{}]}, "mark": {"type": "rect", "fill": "transparent", "stroke": "black", "strokeWidth": 2},
     "encoding": {"y": {"datum": 1000, "type": "quantitative"}, "y2": {"datum": 7000}}}
  ]
}
]
}
